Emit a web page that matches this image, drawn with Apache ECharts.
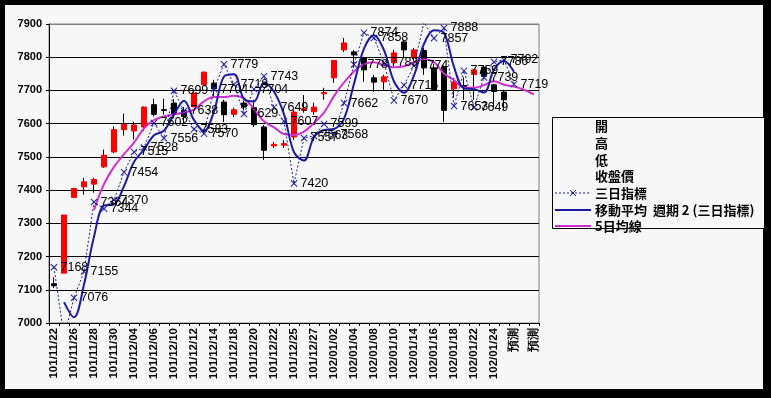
<!DOCTYPE html>
<html><head><meta charset="utf-8">
<script src="https://cdn.jsdelivr.net/npm/echarts@6/dist/echarts.min.js"></script>
<style>html,body{margin:0;padding:0;background:#000;}#c{width:771px;height:398px;}</style>
</head><body><div id="c"></div>
<script>
const categories = ['101/11/22','101/11/23','101/11/26','101/11/27','101/11/28','101/11/29','101/11/30','101/12/03','101/12/04','101/12/05','101/12/06','101/12/07','101/12/10','101/12/11','101/12/12','101/12/13','101/12/14','101/12/17','101/12/18','101/12/19','101/12/20','101/12/21','101/12/22','101/12/24','101/12/25','101/12/26','101/12/27','101/12/28','102/01/02','102/01/03','102/01/04','102/01/07','102/01/08','102/01/09','102/01/10','102/01/11','102/01/14','102/01/15','102/01/16','102/01/17','102/01/18','102/01/21','102/01/22','102/01/23','102/01/24','102/01/25','預測','預測','預測'];
const openP  = [7118,7150,7378,7410,7418,7470,7515,7582,7578,7590,7657,7642,7662,7640,7651,7717,7722,7665,7628,7662,7648,7590,7533,7535,7560,7640,7636,7690,7738,7822,7816,7798,7738,7726,7783,7846,7798,7820,7768,7770,7705,7715,7748,7770,7717,7695];
const closeP = [7112,7325,7405,7425,7432,7505,7582,7598,7596,7650,7628,7640,7628,7622,7692,7755,7705,7627,7642,7650,7597,7520,7538,7540,7635,7645,7650,7694,7790,7843,7807,7762,7725,7741,7813,7822,7822,7768,7702,7640,7725,7712,7762,7742,7697,7672];
const lowP   = [7105,7150,7377,7386,7392,7467,7512,7564,7552,7578,7622,7627,7618,7600,7650,7717,7681,7605,7620,7640,7590,7491,7527,7527,7551,7633,7627,7672,7723,7816,7768,7726,7696,7702,7777,7798,7777,7747,7700,7605,7678,7672,7672,7735,7650,7642];
const highP  = [7138,7325,7406,7437,7437,7522,7592,7630,7606,7652,7675,7675,7674,7650,7695,7757,7732,7672,7648,7670,7672,7596,7545,7550,7642,7686,7663,7708,7792,7858,7822,7800,7747,7747,7822,7852,7828,7828,7780,7775,7738,7740,7765,7775,7720,7702];
const sanri  = [7168,6958,7076,7155,7364,7344,7370,7454,7515,7528,7602,7556,7699,7638,7583,7570,7704,7779,7718,7629,7704,7743,7649,7607,7420,7557,7563,7599,7568,7662,7778,7874,7858,7783,7670,7716,7774,7905,7857,7888,7653,7759,7649,7739,7786,7792,7719];
const ma2    = [null,7063,7017,7116,7260,7354,7357,7412,7485,7522,7565,7579,7628,7669,7611,7577,7637,7742,7749,7674,7667,7724,7696,7628,7514,7489,7560,7581,7584,7615,7720,7826,7866,7821,7727,7693,7745,7840,7881,7873,7771,7706,7704,7694,7763,7789,7756];
const ma5    = [null,null,null,null,7340,7418,7470,7508,7543,7586,7611,7622,7628,7634,7642,7667,7680,7680,7684,7676,7644,7607,7589,7569,7566,7576,7602,7633,7683,7724,7757,7779,7785,7776,7770,7773,7785,7793,7785,7751,7731,7709,7708,7716,7728,7717,7712,7702,7688];
const yTicks = ['7000','7100','7200','7300','7400','7500','7600','7700','7800','7900'];
const legendNames = ['開','高','低','收盤價','三日指標','移動平均  週期 2 (三日指標)','5日均線'];

const wickData = openP.map((o,i)=>[o, closeP[i], lowP[i], highP[i]]);
const bodyData = openP.map((o,i)=>[o, closeP[i], Math.min(o,closeP[i]), Math.max(o,closeP[i])]);

const xPath = 'path://M0,1L1,0L5,4L9,0L10,1L6,5L10,9L9,10L5,6L1,10L0,9L4,5Z';
const NAVY = '#1a1aa4', DOT = '#1c1c9c', MAG = '#d02ed0';
const FONT = 'Liberation Sans, Arial, sans-serif';
const CJK = 'Noto Sans CJK TC, sans-serif';

const chart = echarts.init(document.getElementById('c'), null, {renderer:'canvas'});
const LX = 555, LT = 595, LY = [126,143,160,176,193,210,226];
const mx = LX + 18;
const graphics = [
  {type:'rect', z:-100, silent:true, shape:{x:5,y:5,width:758,height:384}, style:{fill:'#f7f7f7'}},
  {type:'rect', z:50, silent:true, shape:{x:552.5,y:117.5,width:212,height:111}, style:{fill:'#f7f7f7', stroke:'#000', lineWidth:1}},
  {type:'line', z:51, shape:{x1:LX,y1:LY[4],x2:LT-4,y2:LY[4]}, style:{stroke:DOT, lineWidth:1, lineDash:[2,2]}},
  {type:'line', z:51, shape:{x1:mx-3,y1:LY[4]-3,x2:mx+3,y2:LY[4]+3}, style:{stroke:DOT, lineWidth:1}},
  {type:'line', z:51, shape:{x1:mx-3,y1:LY[4]+3,x2:mx+3,y2:LY[4]-3}, style:{stroke:DOT, lineWidth:1}},
  {type:'line', z:51, shape:{x1:LX,y1:LY[5],x2:LT-4,y2:LY[5]}, style:{stroke:NAVY, lineWidth:2}},
  {type:'line', z:51, shape:{x1:LX,y1:LY[6],x2:LT-4,y2:LY[6]}, style:{stroke:MAG, lineWidth:2}}
];
legendNames.forEach((n,i)=>graphics.push({type:'text', z:52, x:LT, y:LY[i], style:{text:n, fill:'#000', font:'bold 13px '+CJK, textVerticalAlign:'middle'}}));

chart.setOption({
  backgroundColor:'#000',
  animation:false,
  grid:{left:49, top:24, width:490, height:299, show:true, borderColor:'#808080', borderWidth:1, backgroundColor:'#f7f7f7'},
  xAxis:{type:'category', data:categories, boundaryGap:true,
    axisLine:{lineStyle:{color:'#000', width:1}},
    axisTick:{show:true, interval:0, length:3, lineStyle:{color:'#000'}},
    axisLabel:{interval:1, rotate:90, margin:5, color:'#000', fontSize:11.5, fontWeight:'bold', fontFamily:FONT}
  },
  yAxis:{type:'value', min:7000, max:7900, interval:100,
    axisLine:{show:true, lineStyle:{color:'#000'}},
    axisTick:{show:true, length:3, lineStyle:{color:'#000'}},
    axisLabel:{margin:7, color:'#000', fontSize:11, fontWeight:'bold', fontFamily:FONT, formatter:(v)=>yTicks[Math.round((v-7000)/100)]},
    splitLine:{show:true, lineStyle:{color:['#000','#000','#000','#000','#000','#000','#000','#000','#000','#808080'], width:1}}
  },
  graphic: graphics,
  series:[
    {name:'高', type:'candlestick', data:wickData, barWidth:1, z:2,
      itemStyle:{color:'#000', color0:'#000', borderColor:'#000', borderColor0:'#000', borderWidth:1}},
    {name:'收盤價', type:'candlestick', data:bodyData, barWidth:5, z:3,
      itemStyle:{color:'#ff0000', color0:'#000', borderColor:'#ff0000', borderColor0:'#000', borderWidth:1}},
    {name:'5日均線', type:'line', data:ma5, smooth:0.4, showSymbol:false, z:4,
      lineStyle:{color:MAG, width:2}},
    {name:'移動平均  週期 2 (三日指標)', type:'line', data:ma2, smooth:0.35, showSymbol:false, z:5,
      lineStyle:{color:NAVY, width:2}},
    {name:'三日指標', type:'line', data:sanri, z:6, symbol:xPath, symbolSize:7, showAllSymbol:true,
      lineStyle:{color:DOT, width:1, type:[2,2]},
      itemStyle:{color:DOT},
      label:{show:true, position:'right', distance:3, color:'#000', fontSize:12.5, fontFamily:FONT}}
  ]
});
</script></body></html>
